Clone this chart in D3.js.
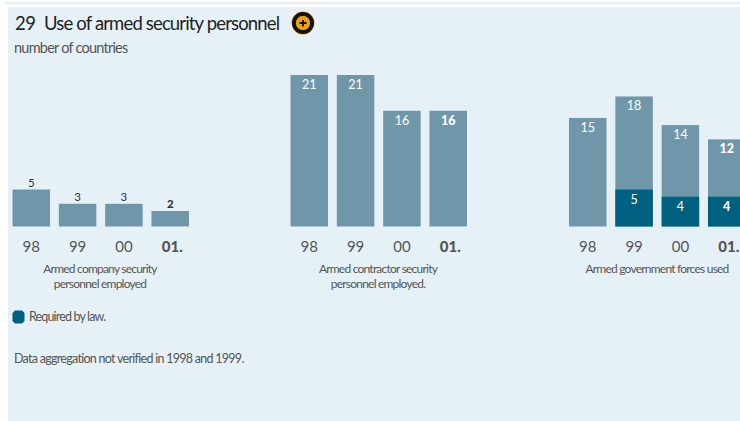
<!DOCTYPE html>
<html>
<head>
<meta charset="utf-8">
<script src="https://cdnjs.cloudflare.com/ajax/libs/d3/7.8.5/d3.min.js"></script>
<style>
html,body{margin:0;padding:0;background:#fff;overflow:hidden}
text{font-family:Lato,"Open Sans",sans-serif}
</style>
</head>
<body>
<svg id="c" width="740" height="421"></svg>
<script>
const years = ["98","99","00","01"];
const companyValues = [5,3,3,2];
const contractorValues = [21,21,16,16];
const governmentValues = [15,18,14,12];
const governmentRequired = [0,5,4,4];
const companyCaption = ["Armed company security","personnel employed"];
const contractorCaption = ["Armed contractor security","personnel employed."];
const governmentCaption = ["Armed government forces used"];

const LIGHT="#7097a9", DARK="#00607f", BG="#e6f1f7", INK="#555";
const svg=d3.select("#c");
svg.append("rect").attr("x",5).attr("y",2).attr("width",735).attr("height",2).attr("fill",BG);
svg.append("rect").attr("x",8).attr("y",7).attr("width",732).attr("height",414).attr("fill",BG);

const y=d3.scaleLinear().domain([-0.17,21]).range([226.5,75]);
const panels=[
 {x0:12.5,values:companyValues,req:null,caption:companyCaption,cx:100,outside:true},
 {x0:290.5,values:contractorValues,req:null,caption:contractorCaption,cx:378,outside:false},
 {x0:569,values:governmentValues,req:governmentRequired,caption:governmentCaption,cx:657,outside:false}
];
panels.forEach(p=>{
  const x=d3.scaleBand().domain(years).range([p.x0,p.x0+176.5]).paddingInner(8.8/46.3);
  const g=svg.append("g");
  const base=y.range()[0];
  g.selectAll(".b").data(p.values).join("rect").attr("x",(d,i)=>x(years[i])).attr("width",x.bandwidth())
    .attr("y",d=>y(d)).attr("height",d=>base-y(d)).attr("fill",LIGHT);
  if(p.req){
    g.selectAll(".r").data(p.req).join("rect").attr("x",(d,i)=>x(years[i])).attr("width",x.bandwidth())
      .attr("y",d=>d?y(d):base).attr("height",d=>d?base-y(d):0).attr("fill",DARK);
    g.selectAll(".rl").data(p.req.filter(d=>d).map((d,i)=>({d,yr:years[i+1]}))).join("text")
      .attr("x",d=>x(d.yr)+x.bandwidth()/2).attr("y",d=>y(d.d)+14.5).attr("text-anchor","middle")
      .attr("font-size",12.5).attr("fill","#fff").attr("font-weight",d=>d.yr==="01"?900:400).text(d=>d.d);
  }
  g.selectAll(".v").data(p.values).join("text")
    .attr("x",(d,i)=>x(years[i])+x.bandwidth()/2)
    .attr("y",d=>p.outside?y(d)-2.5:y(d)+14)
    .attr("text-anchor","middle").attr("font-size",p.outside?11.5:12.5)
    .attr("fill",p.outside?"#333":"#fff")
    .attr("font-weight",(d,i)=>years[i]==="01"?900:400).text(d=>d);
  g.selectAll(".t").data(years).join("text")
    .attr("x",d=>x(d)+x.bandwidth()/2+(d==="01"?2:0)).attr("y",251.5).attr("text-anchor","middle")
    .attr("font-size",15).attr("fill","#555").attr("font-weight",d=>d==="01"?900:400)
    .text(d=>d==="01"?"01.":d);
  g.selectAll(".c").data(p.caption).join("text").attr("x",p.cx).attr("y",(d,i)=>273+i*15)
    .attr("text-anchor","middle").attr("font-size",12).attr("letter-spacing",-0.78).attr("fill",INK).attr("font-weight",400).text(d=>d);
});

svg.append("text").attr("x",15).attr("y",30).attr("font-size",18.5).attr("fill","#222").attr("letter-spacing",-0.45).attr("font-weight",400).text("29");
svg.append("text").attr("x",44).attr("y",30).attr("font-size",18.5).attr("fill","#222").attr("letter-spacing",-0.85).attr("font-weight",400).text("Use of armed security personnel");
svg.append("text").attr("x",14).attr("y",53).attr("font-size",14.5).attr("fill",INK).attr("letter-spacing",-0.77).attr("font-weight",400).text("number of countries");

const ic=svg.append("g").attr("transform","translate(303,23)");
ic.append("circle").attr("r",11.5).attr("fill","#f0a010").attr("stroke","none");
ic.append("circle").attr("r",9).attr("fill","none").attr("stroke","#111").attr("stroke-width",4);
ic.append("circle").attr("r",7).attr("fill","#f0a010");
ic.append("path").attr("d","M-3.5 0H3.5M0 -3V3.5").attr("stroke","#111").attr("stroke-width",1.8);

svg.append("path").attr("d","M15 310.5H22L24.5 313V321L22 323.5H15L12.5 321V313Z").attr("fill",DARK);
svg.append("text").attr("x",29).attr("y",321).attr("font-size",12.5).attr("fill",INK).attr("letter-spacing",-0.85).attr("font-weight",400).text("Required by law.");
svg.append("text").attr("x",14).attr("y",363).attr("font-size",12.5).attr("fill",INK).attr("letter-spacing",-0.72).attr("font-weight",400).text("Data aggregation not verified in 1998 and 1999.");
</script>
</body>
</html>
